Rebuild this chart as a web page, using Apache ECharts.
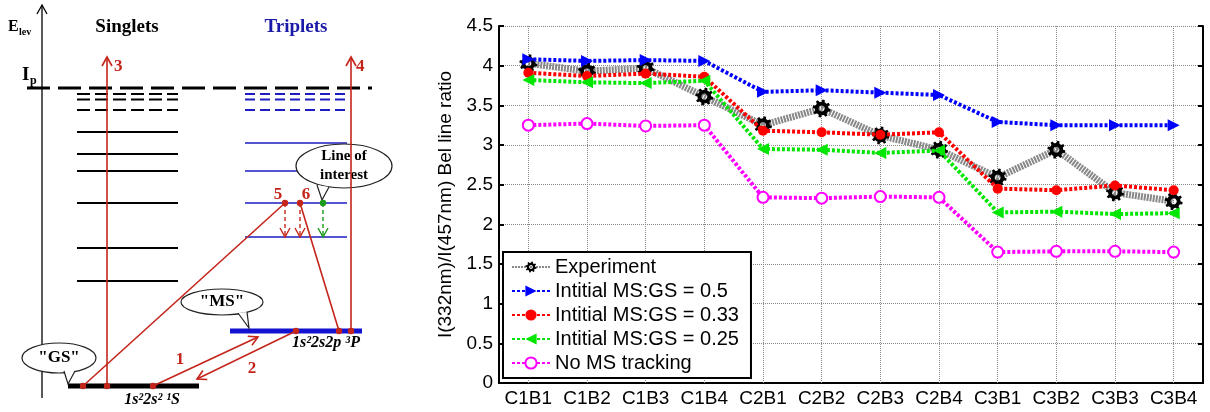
<!DOCTYPE html>
<html><head><meta charset="utf-8">
<script src="https://cdn.jsdelivr.net/npm/echarts@6/dist/echarts.min.js"></script>
<style>html,body{margin:0;padding:0;background:#fff}#c{width:1210px;height:412px}</style>
</head><body><div id="c"></div>
<script>
// ---------------- data ----------------
const categories = ['C1B1','C1B2','C1B3','C1B4','C2B1','C2B2','C2B3','C2B4','C3B1','C3B2','C3B3','C3B4'];
const experiment = [4.03, 3.93, 3.97, 3.61, 3.25, 3.46, 3.12, 2.94, 2.59, 2.94, 2.40, 2.29];
const ms05      = [4.08, 4.06, 4.07, 4.06, 3.67, 3.69, 3.66, 3.63, 3.29, 3.25, 3.25, 3.25];
const ms033     = [3.91, 3.87, 3.90, 3.86, 3.18, 3.16, 3.13, 3.16, 2.45, 2.43, 2.49, 2.43];
const ms025     = [3.82, 3.79, 3.78, 3.81, 2.95, 2.94, 2.90, 2.93, 2.15, 2.16, 2.13, 2.14];
const noMS      = [3.25, 3.27, 3.24, 3.25, 2.34, 2.33, 2.35, 2.34, 1.65, 1.66, 1.66, 1.65];
const seriesNames = ['Experiment','Intitial MS:GS = 0.5','Intitial MS:GS = 0.33','Intitial MS:GS = 0.25','No MS tracking'];
const yName = 'I(332nm)/I(457nm) Bel line ratio';

// ---------------- gear marker ----------------
function gearPath() {
  const n = 8, ro = 10, ri = 7.6, rh = 3.4, step = Math.PI * 2 / n;
  let pts = [];
  for (let k = 0; k < n; k++) {
    const a = k * step;
    pts.push([ri, a], [ro, a + 0.12 * step], [ro, a + 0.45 * step], [ri, a + 0.57 * step]);
  }
  let d = pts.map((p, i) => (i ? 'L' : 'M') + (p[0] * Math.cos(p[1])).toFixed(2) + ',' + (p[0] * Math.sin(p[1])).toFixed(2)).join(' ') + ' Z';
  let h = [];
  for (let i = 16; i > 0; i--) { const a = i / 16 * Math.PI * 2; h.push([rh * Math.cos(a), rh * Math.sin(a)]); }
  d += ' ' + h.map((p, i) => (i ? 'L' : 'M') + p[0].toFixed(2) + ',' + p[1].toFixed(2)).join(' ') + ' Z';
  return 'path://' + d;
}

// ---------------- diagram helpers ----------------
const RED = '#c4251b', BLUE = '#1c1cc0', GREEN = '#1a9a1a';
const els = [];
function ln(x1, y1, x2, y2, color, w, dash) {
  els.push({ type: 'line', silent: true, shape: { x1, y1, x2, y2 }, style: { stroke: color, lineWidth: w, lineDash: dash || null } });
}
function head(x1, y1, x2, y2, color, w) {
  const dx = x2 - x1, dy = y2 - y1, L = Math.hypot(dx, dy), ux = dx / L, uy = dy / L;
  const b = 9, s = 5;
  els.push({ type: 'polyline', silent: true, shape: { points: [[x2 - ux * b - uy * s, y2 - uy * b + ux * s], [x2, y2], [x2 - ux * b + uy * s, y2 - uy * b - ux * s]] }, style: { stroke: color, lineWidth: w, fill: null } });
}
function arrow(x1, y1, x2, y2, color, w, dash) { ln(x1, y1, x2, y2, color, w, dash); head(x1, y1, x2, y2, color, w); }
function dot(x, y, color) { els.push({ type: 'circle', silent: true, shape: { cx: x, cy: y, r: 3.2 }, style: { fill: color } }); }
function txt(x, y, t, font, color, align) {
  els.push({ type: 'text', silent: true, x, y, style: { text: t, font, fill: color, align: align || 'center', textAlign: align || 'center', verticalAlign: 'middle', textVerticalAlign: 'middle', lineHeight: 19 } });
}
function bubble(cx, cy, rx, ry, tail, t, font) {
  els.push({ type: 'ellipse', silent: true, shape: { cx, cy, rx, ry }, style: { fill: '#fff', stroke: '#222', lineWidth: 1.2 } });
  els.push({ type: 'polygon', silent: true, shape: { points: tail }, style: { fill: '#fff' } });
  els.push({ type: 'polyline', silent: true, shape: { points: [tail[0], tail[1], tail[2]] }, style: { stroke: '#222', lineWidth: 1.2, fill: null } });
  txt(cx, cy, t, font, '#000');
}
const SERIF = '"Liberation Serif", "DejaVu Serif", serif';

// energy axis
arrow(42, 398, 42, 5, '#000', 1.3);
txt(8, 27, 'E', 'bold 16px ' + SERIF, '#000', 'left');
txt(19, 32, 'lev', 'bold 10px ' + SERIF, '#000', 'left');
txt(22, 75, 'I', 'bold 19px ' + SERIF, '#000', 'left');
txt(30, 81, 'p', 'bold 12px ' + SERIF, '#000', 'left');
txt(127, 27, 'Singlets', 'bold 19px ' + SERIF, '#000');
txt(296, 27, 'Triplets', 'bold 19px ' + SERIF, '#1a1aa8');
// ionisation potential
ln(27, 88, 372, 88, '#000', 3, [23, 8]);
// singlet levels
[94, 99.5, 110].forEach(y => ln(77, y, 178, y, '#000', 2, [13, 5]));
[132, 154, 171, 203, 248, 281].forEach(y => ln(77, y, 178, y, '#000', 2));
// triplet levels
[94, 99.5, 110].forEach(y => ln(245, y, 345, y, BLUE, 2, [10, 5]));
[143, 171, 203, 237].forEach(y => ln(245, y, 347, y, BLUE, 1.6));
// ground & metastable
ln(68, 386, 199, 386, '#000', 5);
ln(230, 331, 362, 331, '#1212d0', 5);
// bubbles
bubble(59, 358, 37, 15, [[64, 371], [68, 384], [75, 371]], '"GS"', 'bold 17px ' + SERIF);
bubble(222, 302, 41, 13, [[238, 313], [249, 328], [247, 312]], '"MS"', 'bold 17px ' + SERIF);
bubble(344, 166, 48, 22, [[317, 185], [322, 200], [329, 187]], 'Line of\ninterest', 'bold 15px ' + SERIF);
// transitions
arrow(107, 386, 107, 57, RED, 1.6);
txt(114, 67, '3', 'bold 17px ' + SERIF, RED, 'left');
arrow(351, 331, 351, 57, RED, 1.6);
txt(356, 67, '4', 'bold 17px ' + SERIF, RED, 'left');
ln(83, 386, 285, 203, RED, 1.6);
arrow(153, 386, 258, 337, RED, 1.6);
arrow(296, 331, 197, 379, RED, 1.6);
ln(339, 331, 300, 203, RED, 1.6);
arrow(285, 203, 285, 237, RED, 1.4, [4, 3]);
arrow(300, 203, 300, 237, RED, 1.4, [4, 3]);
arrow(323, 203, 323, 237, GREEN, 1.4, [4, 3]);
[[83, 386], [107, 386], [153, 386], [296, 331], [339, 331], [351, 331], [285, 203], [300, 203]].forEach(p => dot(p[0], p[1], RED));
dot(323, 203, GREEN);
txt(180, 360, '1', 'bold 17px ' + SERIF, RED);
txt(252, 369, '2', 'bold 17px ' + SERIF, RED);
txt(278, 195, '5', 'bold 17px ' + SERIF, RED);
txt(306, 195, '6', 'bold 17px ' + SERIF, RED);
txt(152, 400, '1s²2s² ¹S', 'italic bold 16px ' + SERIF, '#000');
txt(326, 343, '1s²2s2p ³P', 'italic bold 16px ' + SERIF, '#000');

// ---------------- chart ----------------
const FONT = '"Liberation Sans", Arial, sans-serif';
const axisLineStyle = { color: '#000', width: 2 };
const gridLineStyle = { color: '#888', type: 'dotted', width: 1 };
const dotted = [3, 2];
const tickStyle = { color: '#000', width: 2 };
const chart = echarts.init(document.getElementById('c'), null, { renderer: 'canvas' });
chart.setOption({
  animation: false,
  backgroundColor: '#fff',
  graphic: { elements: els },
  grid: { left: 499, right: 7, top: 26, bottom: 29 },
  legend: {
    orient: 'vertical', left: 503, top: 252, z: 20,
    data: seriesNames,
    backgroundColor: '#fff', borderColor: '#000', borderWidth: 2, borderRadius: 0,
    padding: [5, 12, 5, 8], itemGap: 4, itemWidth: 38, itemHeight: 14,
    textStyle: { fontSize: 20, fontFamily: FONT, color: '#000' }
  },
  xAxis: [
    { type: 'category', data: categories, boundaryGap: true, position: 'bottom',
      axisLine: { lineStyle: axisLineStyle },
      axisTick: { alignWithLabel: true, inside: true, length: 5, lineStyle: tickStyle },
      axisLabel: { interval: 0, color: '#000', fontSize: 19, fontFamily: FONT, margin: 6 },
      splitLine: { show: false } },
    { type: 'category', data: categories, boundaryGap: true, position: 'top',
      axisLine: { lineStyle: axisLineStyle },
      axisTick: { alignWithLabel: true, inside: true, length: 5, lineStyle: tickStyle },
      axisLabel: { show: false }, splitLine: { show: false } }
  ],
  yAxis: [
    { type: 'value', min: 0, max: 4.5, interval: 0.5, position: 'left',
      axisLine: { show: true, lineStyle: axisLineStyle },
      axisTick: { show: true, inside: true, length: 5, lineStyle: tickStyle },
      axisLabel: { color: '#000', fontSize: 19, fontFamily: FONT, margin: 6 },
      splitLine: { show: true, lineStyle: gridLineStyle },
      name: yName, nameLocation: 'middle', nameGap: 37, nameRotate: 90,
      nameTextStyle: { color: '#000', fontSize: 19, fontFamily: FONT } },
    { type: 'value', min: 0, max: 4.5, interval: 0.5, position: 'right',
      axisLine: { show: true, lineStyle: axisLineStyle },
      axisTick: { show: true, inside: true, length: 5, lineStyle: tickStyle },
      axisLabel: { show: false }, splitLine: { show: false } }
  ],
  series: [
    { name: 'vgrid', type: 'line', data: [], z: 1, silent: true,
      markLine: { z: 1, silent: true, symbol: ['none', 'none'], label: { show: false }, animation: false,
        lineStyle: gridLineStyle, emphasis: { disabled: true },
        data: categories.map(c => ({ xAxis: c })) } },
    { name: seriesNames[0], type: 'line', data: experiment, symbol: gearPath(), symbolSize: 18,
      itemStyle: { color: '#000' }, lineStyle: { color: '#888', width: 7, type: [2, 1] }, z: 2 },
    { name: seriesNames[1], type: 'line', data: ms05, symbol: 'triangle', symbolRotate: -90, symbolSize: 12,
      itemStyle: { color: '#0000ff' }, lineStyle: { color: '#0000ff', width: 4, type: dotted }, z: 3 },
    { name: seriesNames[2], type: 'line', data: ms033, symbol: 'circle', symbolSize: 10,
      itemStyle: { color: '#ff0000' }, lineStyle: { color: '#ff0000', width: 4, type: dotted }, z: 4 },
    { name: seriesNames[3], type: 'line', data: ms025, symbol: 'triangle', symbolRotate: 90, symbolSize: 12,
      itemStyle: { color: '#00e600' }, lineStyle: { color: '#00e600', width: 4, type: dotted }, z: 5 },
    { name: seriesNames[4], type: 'line', data: noMS, symbol: 'emptyCircle', symbolSize: 11,
      itemStyle: { color: '#ff00ff', borderWidth: 3 }, lineStyle: { color: '#ff00ff', width: 4, type: dotted }, z: 6 }
  ]
});
</script>
</body></html>
